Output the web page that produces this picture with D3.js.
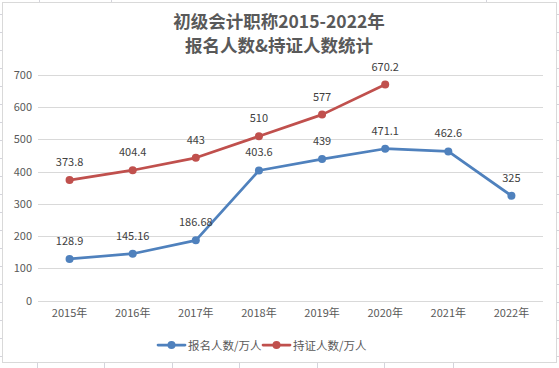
<!DOCTYPE html>
<html><head><meta charset="utf-8">
<script src="https://cdn.jsdelivr.net/npm/d3@7"></script>
<style>html,body{margin:0;padding:0;background:#fff;}svg{display:block;}</style>
</head><body>
<svg id="c" width="559" height="368"></svg>
<script>
const categories = ["2015年","2016年","2017年","2018年","2019年","2020年","2021年","2022年"];
const applicants = [128.9,145.16,186.68,403.6,439,471.1,462.6,325];
const applicantLabels = ["128.9","145.16","186.68","403.6","439","471.1","462.6","325"];
const certified = [373.8,404.4,443,510,577,670.2];
const certifiedLabels = ["373.8","404.4","443","510","577","670.2"];
const yTicks = [0,100,200,300,400,500,600,700];
const seriesNames = ["报名人数/万人","持证人数/万人"];
const titleLines = ["初级会计职称2015-2022年","报名人数&持证人数统计"];

const svg = d3.select("#c");
const W = 559, H = 368;
const font = "'Noto Sans CJK SC','Noto Sans',sans-serif";

// spreadsheet background hints
const bg = svg.append("g").attr("stroke","#d4d4dc").attr("stroke-width",1);
for (let y = 14; y < H; y += 18) {
  bg.append("line").attr("x1",0).attr("x2",3).attr("y1",y+0.5).attr("y2",y+0.5);
  bg.append("line").attr("x1",557).attr("x2",559).attr("y1",y+0.5).attr("y2",y+0.5);
}
[39,111,486].forEach(x=>bg.append("line").attr("x1",x+0.5).attr("x2",x+0.5).attr("y1",0).attr("y2",3));
[37,104,172,239,317,384,453].forEach(x=>bg.append("line").attr("x1",x+0.5).attr("x2",x+0.5).attr("y1",363).attr("y2",368));

// chart box
svg.append("rect").attr("x",2.5).attr("y",2.5).attr("width",554).attr("height",360)
  .attr("fill","#fff").attr("stroke","#d9d9d9").attr("stroke-width",1);

// title
const t = svg.append("g").attr("font-family","'Noto Sans CJK SC',serif").attr("font-weight","bold")
  .attr("font-size",17.5).attr("fill","#595959").attr("text-anchor","middle");
titleLines.forEach((s,i)=>t.append("text").attr("x",279).attr("y",28+i*24).text(s));

const x = d3.scaleBand().domain(categories).range([38,543]);
const y = d3.scaleLinear().domain([0,700]).range([300.5,75]);
const cx = d => x(d) + x.bandwidth()/2;

// grid
svg.append("g").selectAll("line").data(yTicks).join("line")
  .attr("x1",38).attr("x2",543)
  .attr("y1",d=>Math.round(y(d))+0.5).attr("y2",d=>Math.round(y(d))+0.5)
  .attr("stroke","#d9d9d9").attr("stroke-width",1);

// y axis
const ya = svg.append("g").attr("transform","translate(32,0)")
  .call(d3.axisLeft(y).tickValues(yTicks).tickSize(0).tickPadding(0));
ya.select(".domain").remove();
ya.selectAll("text").attr("font-family",font).attr("font-size",11).attr("fill","#595959");

// x axis
const xa = svg.append("g").attr("transform","translate(0,309)")
  .call(d3.axisBottom(x).tickSize(0).tickPadding(0));
xa.select(".domain").remove();
xa.selectAll("text").attr("font-family",font).attr("font-size",11).attr("fill","#595959");

const line = d3.line().x(d=>cx(d.c)).y(d=>y(d.v));
function drawSeries(vals, labels, color){
  const data = vals.map((v,i)=>({c:categories[i], v, l:labels[i]}));
  svg.append("path").datum(data).attr("d",line).attr("fill","none")
    .attr("stroke",color).attr("stroke-width",2.75).attr("stroke-linejoin","round").attr("stroke-linecap","round");
  svg.append("g").selectAll("circle").data(data).join("circle")
    .attr("cx",d=>cx(d.c)).attr("cy",d=>y(d.v)).attr("r",4).attr("fill",color);
  svg.append("g").selectAll("text").data(data).join("text")
    .attr("x",d=>cx(d.c)).attr("y",d=>y(d.v)-14).attr("text-anchor","middle")
    .attr("font-family",font).attr("font-size",11).attr("fill","#404040").text(d=>d.l);
}
const colors = ["#4f81bd","#c0504d"];
drawSeries(applicants, applicantLabels, colors[0]);
drawSeries(certified, certifiedLabels, colors[1]);

// legend
const lg = svg.append("g");
const legendX = [158, 263];
seriesNames.forEach((n,i)=>{
  const g = lg.append("g").attr("transform",`translate(${legendX[i]},345)`);
  g.append("line").attr("x1",0).attr("x2",27).attr("y1",0).attr("y2",0)
    .attr("stroke",colors[i]).attr("stroke-width",2.75).attr("stroke-linecap","round");
  g.append("circle").attr("cx",13.5).attr("cy",0).attr("r",4).attr("fill",colors[i]);
  g.append("text").attr("x",30).attr("y",4.5).attr("font-family",font).attr("font-size",11.5)
    .attr("fill","#595959").text(n);
});
</script>
</body></html>
